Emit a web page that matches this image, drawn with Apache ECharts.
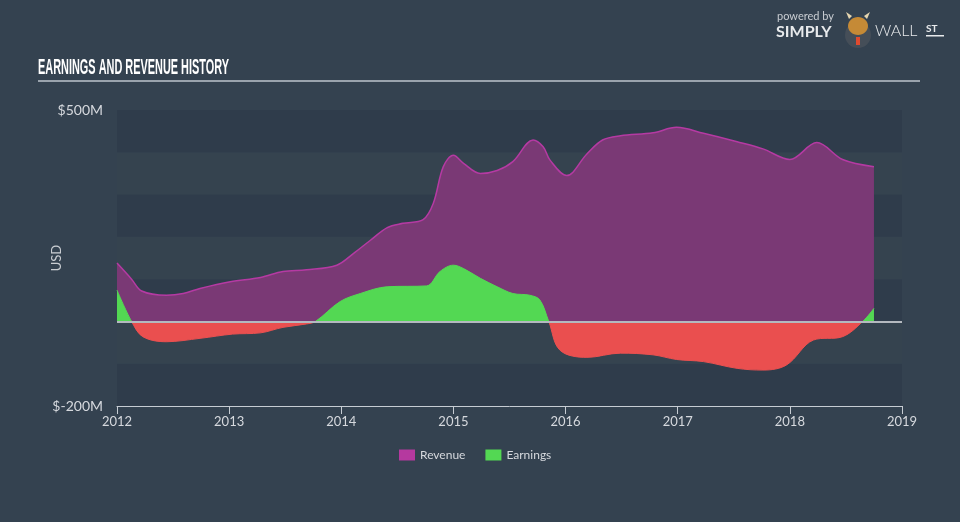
<!DOCTYPE html>
<html>
<head>
<meta charset="utf-8">
<script src="https://cdn.jsdelivr.net/npm/echarts@6/dist/echarts.min.js"></script>
<style>
html,body{margin:0;padding:0;background:#344250;}
#main{width:960px;height:522px;}
</style>
</head>
<body>
<div id="main"></div>
<script>
// Revenue (USD millions) by fractional year
const revenueYears = [2012.00,2012.13,2012.22,2012.44,2012.59,2012.74,2013.01,2013.28,2013.48,2013.69,2013.96,2014.11,2014.26,2014.41,2014.55,2014.73,2014.82,2014.91,2015.00,2015.09,2015.24,2015.39,2015.53,2015.71,2015.80,2015.86,2016.01,2016.19,2016.33,2016.49,2016.78,2016.99,2017.23,2017.53,2017.76,2018.00,2018.24,2018.47,2018.75];
const revenueValues = [138,100,72,62,66,78,94,104,118,122,133,161,192,222,232,241,279,366,393,374,350,357,378,429,413,382,345,396,429,439,446,459,445,425,408,383,423,383,366];
// Earnings (USD millions) by fractional year
const earningsYears = [2012.00,2012.13,2012.23,2012.44,2012.74,2013.03,2013.28,2013.48,2013.69,2013.77,2013.99,2014.17,2014.41,2014.76,2014.88,2015.00,2015.09,2015.24,2015.39,2015.53,2015.68,2015.77,2015.85,2015.95,2016.19,2016.49,2016.78,2016.99,2017.23,2017.53,2017.76,2017.97,2018.21,2018.47,2018.65,2018.75];
const earningsValues = [74,0,-36,-48,-40,-30,-27,-14,-6,0,47,66,82,84,118,133,125,102,82,66,62,51,0,-68,-85,-75,-79,-90,-95,-111,-115,-103,-44,-36,0,31];
const yTickLabels = {500:'$500M', '-200':'$-200M'};

const revenueData = revenueYears.map((y,i)=>[y,revenueValues[i]]);
const earningsData = earningsYears.map((y,i)=>[y,earningsValues[i]]);

const font = 'Lato, "Open Sans", sans-serif';
const titleText = 'EARNINGS AND REVENUE HISTORY';
const titleFont = 'bold 22px "Liberation Sans", Arial, sans-serif';
// fit the condensed title to the reference's width
const ctx = document.createElement('canvas').getContext('2d');
ctx.font = titleFont;
const titleScale = 191 / ctx.measureText(titleText).width;

const chart = echarts.init(document.getElementById('main'), null, {renderer:'canvas'});
chart.setOption({
  animation:false,
  backgroundColor:'#344250',
  grid:{left:117,right:58,top:110,bottom:116},
  legend:{
    bottom:61,left:399,padding:0,itemWidth:16,itemHeight:11,itemGap:20,
    icon:'rect',
    textStyle:{color:'#d6d9de',fontSize:12,fontFamily:font},
    data:['Revenue','Earnings']
  },
  graphic:[
    {type:'text',x:38,y:57,scaleX:titleScale,style:{text:titleText,fill:'#ffffff',font:titleFont}},
    {type:'rect',shape:{x:38,y:80,width:882,height:2},style:{fill:'#9aa3ad'}},
    {type:'text',left:777,top:11,style:{text:'powered by',fill:'#c9cdd2',font:'11px '+font}},
    {type:'text',left:776,top:24,style:{text:'SIMPLY',fill:'#e8eaec',font:'bold 16px '+font}},
    {type:'circle',shape:{cx:858,cy:35,r:13},style:{fill:'#454e58'}},
    {type:'polygon',shape:{points:[[849,19],[846,12],[852,16]]},style:{fill:'#e6d6b0'}},
    {type:'polygon',shape:{points:[[867,19],[870,12],[864,16]]},style:{fill:'#e6d6b0'}},
    {type:'ellipse',shape:{cx:858,cy:26,rx:10,ry:9},style:{fill:'#c58a36'}},
    {type:'rect',shape:{x:856,y:37,width:4,height:8},style:{fill:'#e04a2f'}},
    {type:'text',left:875,top:23,style:{text:'WALL',fill:'#e8eaec',font:'300 16px '+font}},
    {type:'text',left:926,top:24,style:{text:'ST',fill:'#e8eaec',font:'bold 10px '+font}},
    {type:'rect',shape:{x:926,y:35,width:18,height:1.5},style:{fill:'#e8eaec'}}
  ],
  xAxis:{
    type:'value',min:2012,max:2019,interval:1,
    axisLine:{onZero:false,lineStyle:{color:'#c6ccd3',width:1}},
    axisTick:{show:true,length:8,lineStyle:{color:'#c6ccd3'}},
    axisLabel:{color:'#d6d9de',fontSize:13,fontFamily:font,margin:9,formatter:v=>String(v),showMinLabel:true,showMaxLabel:true},
    splitLine:{show:false}
  },
  yAxis:{
    type:'value',min:-200,max:500,interval:100,
    name:'USD',nameLocation:'middle',nameGap:54,nameMoveOverlap:false,
    nameTextStyle:{color:'#c9cdd2',fontSize:13,fontFamily:font},
    axisLine:{show:false},axisTick:{show:false},
    axisLabel:{color:'#d6d9de',fontSize:14,fontFamily:font,margin:14,formatter:v=>yTickLabels[v]||''},
    splitLine:{show:false},
    splitArea:{show:true,areaStyle:{color:['#2f3c4b','#35434f']}}
  },
  visualMap:{
    show:false,type:'piecewise',seriesIndex:1,dimension:1,
    pieces:[{gt:-1000,lte:0,color:'#ea4f4f'},{gt:0,lte:1000,color:'#53d853'}]
  },
  series:[
    {
      name:'Revenue',type:'line',data:revenueData,smooth:0.35,symbol:'none',
      itemStyle:{color:'#b5399f'},
      lineStyle:{color:'#b53aa3',width:1.5},
      areaStyle:{color:'#7a3975',opacity:1}
    },
    {
      name:'Earnings',type:'line',data:earningsData,smooth:0.35,symbol:'none',
      itemStyle:{color:'#53d853'},
      lineStyle:{width:1},
      areaStyle:{opacity:1}
    },
    {
      name:'zero',type:'line',data:[],z:5,
      markLine:{
        silent:true,symbol:'none',label:{show:false},
        lineStyle:{color:'#b4b9bf',width:2,type:'solid'},
        data:[{yAxis:0}]
      }
    }
  ]
});
</script>
</body>
</html>
